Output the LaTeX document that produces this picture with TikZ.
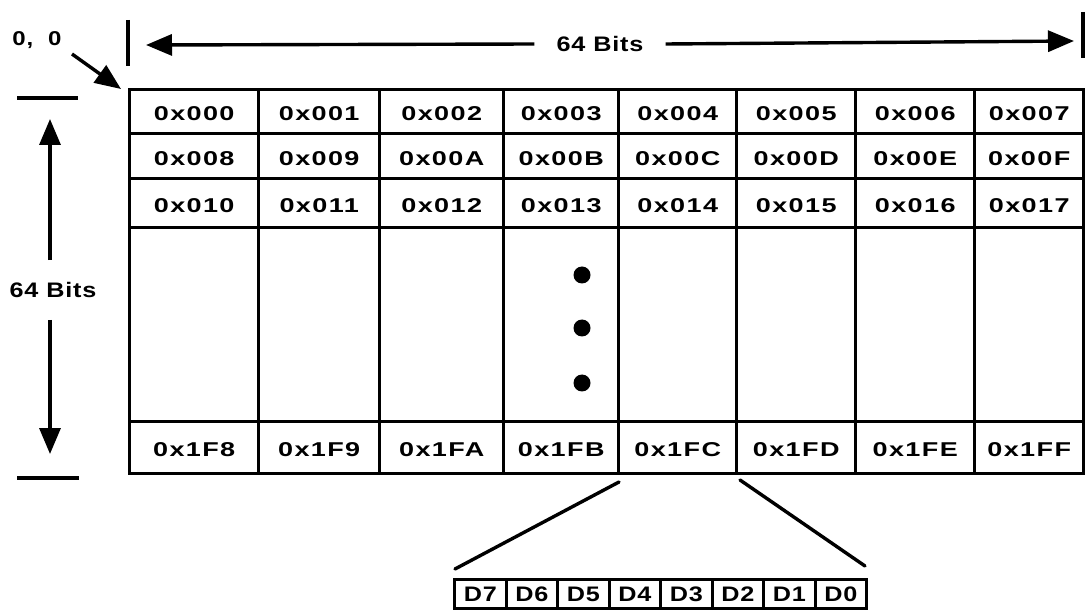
\documentclass[tikz,border=0pt]{standalone}
\usepackage{fontspec}
\usetikzlibrary{arrows.meta}
\newfontfamily\hx{Liberation Sans}[FakeStretch=1.35,LetterSpace=7.0]
\newfontfamily\hb{Liberation Sans}[FakeStretch=1.2,LetterSpace=4.0]
\begin{document}
\begin{tikzpicture}[x=1pt,y=-1pt,
  ln/.style={line width=3.4pt},
  arr/.style={ln,-{Triangle[length=26pt,width=21pt]}},
  cell/.style={draw,line width=3.4pt,inner sep=0pt,anchor=north west},
  cf/.style={font=\hx\bfseries\fontsize{20}{20}\selectfont},
  dcell/.style={draw,line width=3.2pt,inner sep=0pt,anchor=north west,minimum height=29pt,font=\hb\bfseries\fontsize{21}{21}\selectfont},
  lbl/.style={font=\hb\bfseries\fontsize{21}{21}\selectfont}]
\useasboundingbox (0,0) rectangle (1085,612);
% grid
\def\xs{{128,257,378,502,617,735,854,973,1082}}
\def\ys{{88,132,177,226,420,472}}
\foreach \c [evaluate=\c as \xa using {\xs[\c]}, evaluate=\c as \xb using {\xs[\c+1]}] in {0,...,7}{
  \foreach \r [evaluate=\r as \ya using {\ys[\r]}, evaluate=\r as \yb using {\ys[\r+1]}] in {0,...,4}{
    \node[cell,minimum width={\xb-\xa},minimum height={\yb-\ya}] (c\r-\c) at (\xa,\ya) {};
  }
}
% labels
\foreach \c/\a/\b/\d/\e in {0/0x000/0x008/0x010/0x1F8,1/0x001/0x009/0x011/0x1F9,2/0x002/0x00A/0x012/0x1FA,3/0x003/0x00B/0x013/0x1FB,4/0x004/0x00C/0x014/0x1FC,5/0x005/0x00D/0x015/0x1FD,6/0x006/0x00E/0x016/0x1FE,7/0x007/0x00F/0x017/0x1FF}{
  \node[cf] at ([yshift=-2pt]c0-\c.center) {\a};
  \node[cf] at ([yshift=-2pt]c1-\c.center) {\b};
  \node[cf] at ([yshift=-2pt]c2-\c.center) {\d};
  \node[cf] at ([yshift=-2pt]c4-\c.center) {\e};
}
% dots
\foreach \yy [count=\i] in {275,328,383}
  \fill (582,\yy) circle (8.5pt) node (dot\i) {};
% top dimension
\node[lbl,inner xsep=22pt] (tb) at (600,44) {64 Bits};
\coordinate (tlt) at (146,45);
\coordinate (trt) at (1074,41);
\draw[ln] (128,20) -- (128,66);
\draw[ln] (1083,12) -- (1083,58);
\draw[arr] (tb.west) -- (tlt);
\draw[arr] (tb.east) -- (trt);
% origin
\node[font=\hb\bfseries\fontsize{20}{20}\selectfont] (org) at (37,40) {0,\ \ 0};
\coordinate (orgt) at (121,89);
\draw[arr] (72,54) -- (orgt);
% left dimension
\node[lbl,inner ysep=22pt] (lb) at (53,290) {64 Bits};
\coordinate (lut) at (50,119);
\coordinate (ldt) at (50,454);
\draw[ln] (17,98) -- (78,98);
\draw[ln] (17,478) -- (79,478);
\draw[arr] (lb.north -| lut) -- (lut);
\draw[arr] (lb.south -| ldt) -- (ldt);
% D bits
\foreach \t [count=\i from 0] in {D7,D6,D5,D4,D3,D2,D1,D0}
  \node[dcell,minimum width=51.5pt] (d\i) at (453+51.5*\i,578) {\t};
\coordinate (fl) at (619,482);
\coordinate (fr) at (740,480);
\coordinate (dl) at (455,569);
\coordinate (dr) at (865,566);
\draw[ln,line cap=round] (fl) -- (dl);
\draw[ln,line cap=round] (fr) -- (dr);
\end{tikzpicture}
\end{document}
